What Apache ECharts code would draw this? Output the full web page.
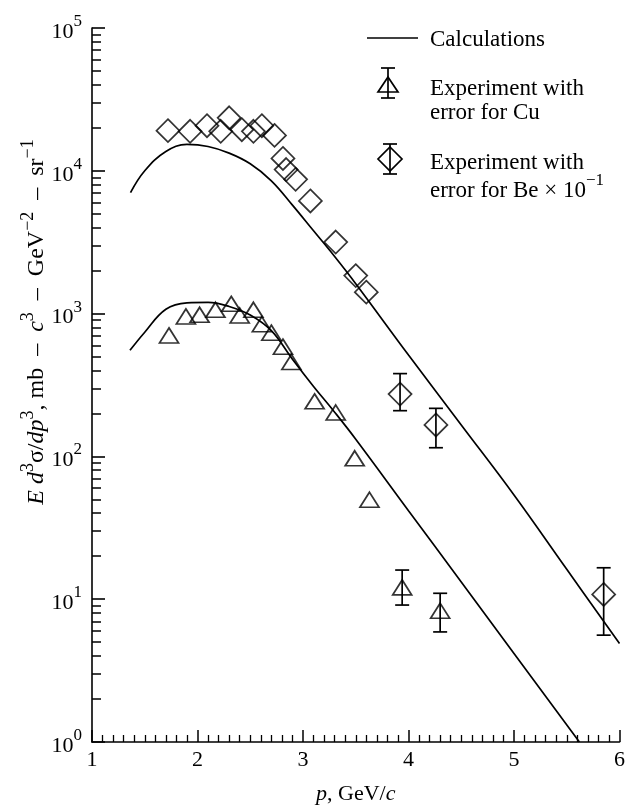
<!DOCTYPE html>
<html>
<head>
<meta charset="utf-8">
<script src="https://cdn.jsdelivr.net/npm/echarts@6/dist/echarts.min.js"></script>
<style>
html, body { margin: 0; padding: 0; background: #fff; }
#chart { width: 628px; height: 810px; }
</style>
</head>
<body>
<div id="chart"></div>
<script>
// calculated curves [p, value]
var calcBe = [[1.365, 7030], [1.5, 10000], [1.7, 13650], [1.9, 15300], [2.1, 14800], [2.3, 13300],
    [2.5, 11200], [2.7, 8510], [2.9, 5750], [3.1, 3800], [3.3, 2510], [3.5, 1620], [4.0, 513],
    [4.5, 166], [5.0, 53.7], [5.5, 16.2], [6.0, 4.9]];
var calcCu = [[1.36, 553], [1.5, 741], [1.7, 1072], [1.9, 1189], [2.1, 1197], [2.3, 1122],
    [2.5, 977], [2.7, 759], [2.9, 479], [3.1, 309], [3.3, 204], [3.5, 132], [4.0, 41.7],
    [4.5, 13.2], [5.0, 4.17], [5.62, 1]];

// experiment, Cu (triangles)
var cuP = [1.73, 1.89, 2.02, 2.17, 2.32, 2.40, 2.53, 2.61, 2.70, 2.81, 2.89, 3.11, 3.31, 3.49, 3.63, 3.94, 4.30];
var cuVal = [703, 955, 981, 1063, 1170, 970, 1063, 842, 735, 587, 459, 243, 203, 97, 49.7, 12.1, 8.3];
var cuErrP = [3.94, 4.30];
var cuErrLow = [9.1, 5.9];
var cuErrHigh = [16, 11.0];

// experiment, Be x 0.1 (diamonds)
var beP = [1.72, 1.93, 2.09, 2.22, 2.30, 2.42, 2.53, 2.61, 2.73, 2.81, 2.84, 2.93, 3.07, 3.31, 3.50, 3.60, 3.92, 4.26, 5.85];
var beVal = [19100, 18900, 20700, 18900, 23500, 19400, 18900, 20700, 17700, 12200, 10200, 8710, 6150, 3170, 1845, 1413, 273, 166, 10.8];
var beErrP = [3.92, 4.26, 5.85];
var beErrLow = [209, 115, 5.6];
var beErrHigh = [380, 217, 16.6];

var yMinor = [];
for (var d = 1; d < 100000; d *= 10) {
    for (var k = 2; k <= 9; k++) yMinor.push(k * d);
}

var serif = '"Liberation Serif", "DejaVu Serif", serif';

function zip(a, b) {
    return a.map(function (v, i) { return [v, b[i]]; });
}
function zip3(a, b, c) {
    return a.map(function (v, i) { return [v, b[i], c[i]]; });
}

function renderErr(params, api) {
    var p = api.value(0);
    var lo = api.coord([p, api.value(1)]);
    var hi = api.coord([p, api.value(2)]);
    var w = 7;
    var st = { stroke: '#000', lineWidth: 1.7 };
    return {
        type: 'group',
        children: [
            { type: 'line', shape: { x1: lo[0], y1: lo[1], x2: hi[0], y2: hi[1] }, style: st },
            { type: 'line', shape: { x1: lo[0] - w, y1: lo[1], x2: lo[0] + w, y2: lo[1] }, style: st },
            { type: 'line', shape: { x1: hi[0] - w, y1: hi[1], x2: hi[0] + w, y2: hi[1] }, style: st }
        ]
    };
}

var supRich = {
    n: { fontFamily: serif, fontSize: 22, color: '#000', lineHeight: 30, verticalAlign: 'bottom' },
    i: { fontFamily: serif, fontSize: 22, fontStyle: 'italic', color: '#000', lineHeight: 30, verticalAlign: 'bottom' },
    s: { fontFamily: serif, fontSize: 17, color: '#000', lineHeight: 14, verticalAlign: 'top' }
};

var chart = echarts.init(document.getElementById('chart'));
var option = {
    animation: false,
    backgroundColor: '#fff',
    grid: { left: 92, right: 8, top: 28, bottom: 65 },
    xAxis: {
        type: 'value',
        min: 1,
        max: 6,
        interval: 1,
        axisLine: { lineStyle: { color: '#000', width: 1.6 } },
        axisTick: { inside: true, length: 12, lineStyle: { color: '#000', width: 1.5 } },
        minorTick: { show: true, splitNumber: 10, length: 7, lineStyle: { color: '#000', width: 1.3 } },
        axisLabel: { color: '#000', fontFamily: serif, fontSize: 22, margin: 7 },
        splitLine: { show: false },
        name: '{i|p}{n|, GeV/}{i|c}',
        nameLocation: 'middle',
        nameGap: 33,
        nameTextStyle: { rich: supRich }
    },
    yAxis: [{
        type: 'log',
        logBase: 10,
        min: 1,
        max: 100000,
        axisLine: { show: true, lineStyle: { color: '#000', width: 1.6 } },
        axisTick: { inside: true, length: 13, lineStyle: { color: '#000', width: 1.6 } },
        axisLabel: {
            margin: 10,
            formatter: function (v) {
                return '{n|10}{s|' + Math.round(Math.log10(v)) + '}';
            },
            rich: supRich
        },
        splitLine: { show: false }
    }, {
        type: 'log',
        logBase: 10,
        min: 1,
        max: 100000,
        position: 'left',
        axisLine: { show: false },
        axisTick: { show: true, inside: true, length: 9, customValues: yMinor, lineStyle: { color: '#000', width: 1.5 } },
        axisLabel: { show: false },
        splitLine: { show: false }
    }],
    graphic: [
        // legend
        { type: 'line', shape: { x1: 367, y1: 38, x2: 418, y2: 38 }, style: { stroke: '#000', lineWidth: 1.7 } },
        { type: 'text', x: 430, y: 40, style: { text: 'Calculations', font: '23px ' + serif, fill: '#000', verticalAlign: 'middle' } },
        { type: 'line', shape: { x1: 388, y1: 68, x2: 388, y2: 98 }, style: { stroke: '#000', lineWidth: 1.7 } },
        { type: 'line', shape: { x1: 381, y1: 68, x2: 395, y2: 68 }, style: { stroke: '#000', lineWidth: 1.7 } },
        { type: 'line', shape: { x1: 381, y1: 98, x2: 395, y2: 98 }, style: { stroke: '#000', lineWidth: 1.7 } },
        { type: 'polygon', shape: { points: [[388, 77], [378, 92], [398, 92]] }, style: { fill: 'none', stroke: '#000', lineWidth: 1.7 } },
        { type: 'text', x: 430, y: 89, style: { text: 'Experiment with', font: '23px ' + serif, fill: '#000', verticalAlign: 'middle' } },
        { type: 'text', x: 430, y: 113, style: { text: 'error for Cu', font: '23px ' + serif, fill: '#000', verticalAlign: 'middle' } },
        { type: 'line', shape: { x1: 390, y1: 144, x2: 390, y2: 174 }, style: { stroke: '#000', lineWidth: 1.7 } },
        { type: 'line', shape: { x1: 383, y1: 144, x2: 397, y2: 144 }, style: { stroke: '#000', lineWidth: 1.7 } },
        { type: 'line', shape: { x1: 383, y1: 174, x2: 397, y2: 174 }, style: { stroke: '#000', lineWidth: 1.7 } },
        { type: 'polygon', shape: { points: [[390, 147], [402, 159], [390, 171], [378, 159]] }, style: { fill: 'none', stroke: '#000', lineWidth: 1.7 } },
        { type: 'text', x: 430, y: 163, style: { text: 'Experiment with', font: '23px ' + serif, fill: '#000', verticalAlign: 'middle' } },
        {
            type: 'text', x: 430, y: 187,
            style: {
                text: '{n|error for Be × 10}{s|−1}',
                verticalAlign: 'middle',
                rich: {
                    n: { fontFamily: serif, fontSize: 23, fill: '#000', lineHeight: 30, verticalAlign: 'bottom' },
                    s: { fontFamily: serif, fontSize: 17, fill: '#000', lineHeight: 12, verticalAlign: 'top' }
                }
            }
        },
        // y axis title
        {
            type: 'text', x: 34, y: 322, rotation: Math.PI / 2,
            style: {
                text: '{i|E d}{s|3}{n|σ/}{i|dp}{s|3}{n|, mb  –  }{i|c}{s|3}{n|  –  GeV}{s|−2}{n|  –  sr}{s|−1}',
                align: 'center',
                verticalAlign: 'middle',
                rich: {
                    n: { fontFamily: serif, fontSize: 24, fill: '#000', lineHeight: 30, verticalAlign: 'bottom' },
                    i: { fontFamily: serif, fontSize: 24, fontStyle: 'italic', fill: '#000', lineHeight: 30, verticalAlign: 'bottom' },
                    s: { fontFamily: serif, fontSize: 18, fill: '#000', lineHeight: 12, verticalAlign: 'top' }
                }
            }
        }
    ],
    series: [{
        name: 'Calculations',
        type: 'line',
        data: calcBe,
        smooth: 0.4,
        showSymbol: false,
        clip: true,
        lineStyle: { color: '#000', width: 1.7 }
    }, {
        name: 'Calculations',
        type: 'line',
        data: calcCu,
        smooth: 0.4,
        showSymbol: false,
        clip: true,
        lineStyle: { color: '#000', width: 1.7 }
    }, {
        name: 'Experiment with error for Cu',
        type: 'scatter',
        data: zip(cuP, cuVal),
        symbol: 'triangle',
        symbolSize: [19, 15],
        itemStyle: { color: 'none', borderColor: '#000', borderWidth: 1.7 }
    }, {
        name: 'Experiment with error for Be',
        type: 'scatter',
        data: zip(beP, beVal),
        symbol: 'diamond',
        symbolSize: [23, 23],
        itemStyle: { color: 'none', borderColor: '#000', borderWidth: 1.7 }
    }, {
        type: 'custom',
        renderItem: renderErr,
        data: zip3(cuErrP, cuErrLow, cuErrHigh),
        encode: { x: 0, y: [1, 2] }
    }, {
        type: 'custom',
        renderItem: renderErr,
        data: zip3(beErrP, beErrLow, beErrHigh),
        encode: { x: 0, y: [1, 2] }
    }]
};
chart.setOption(option);
</script>
</body>
</html>
